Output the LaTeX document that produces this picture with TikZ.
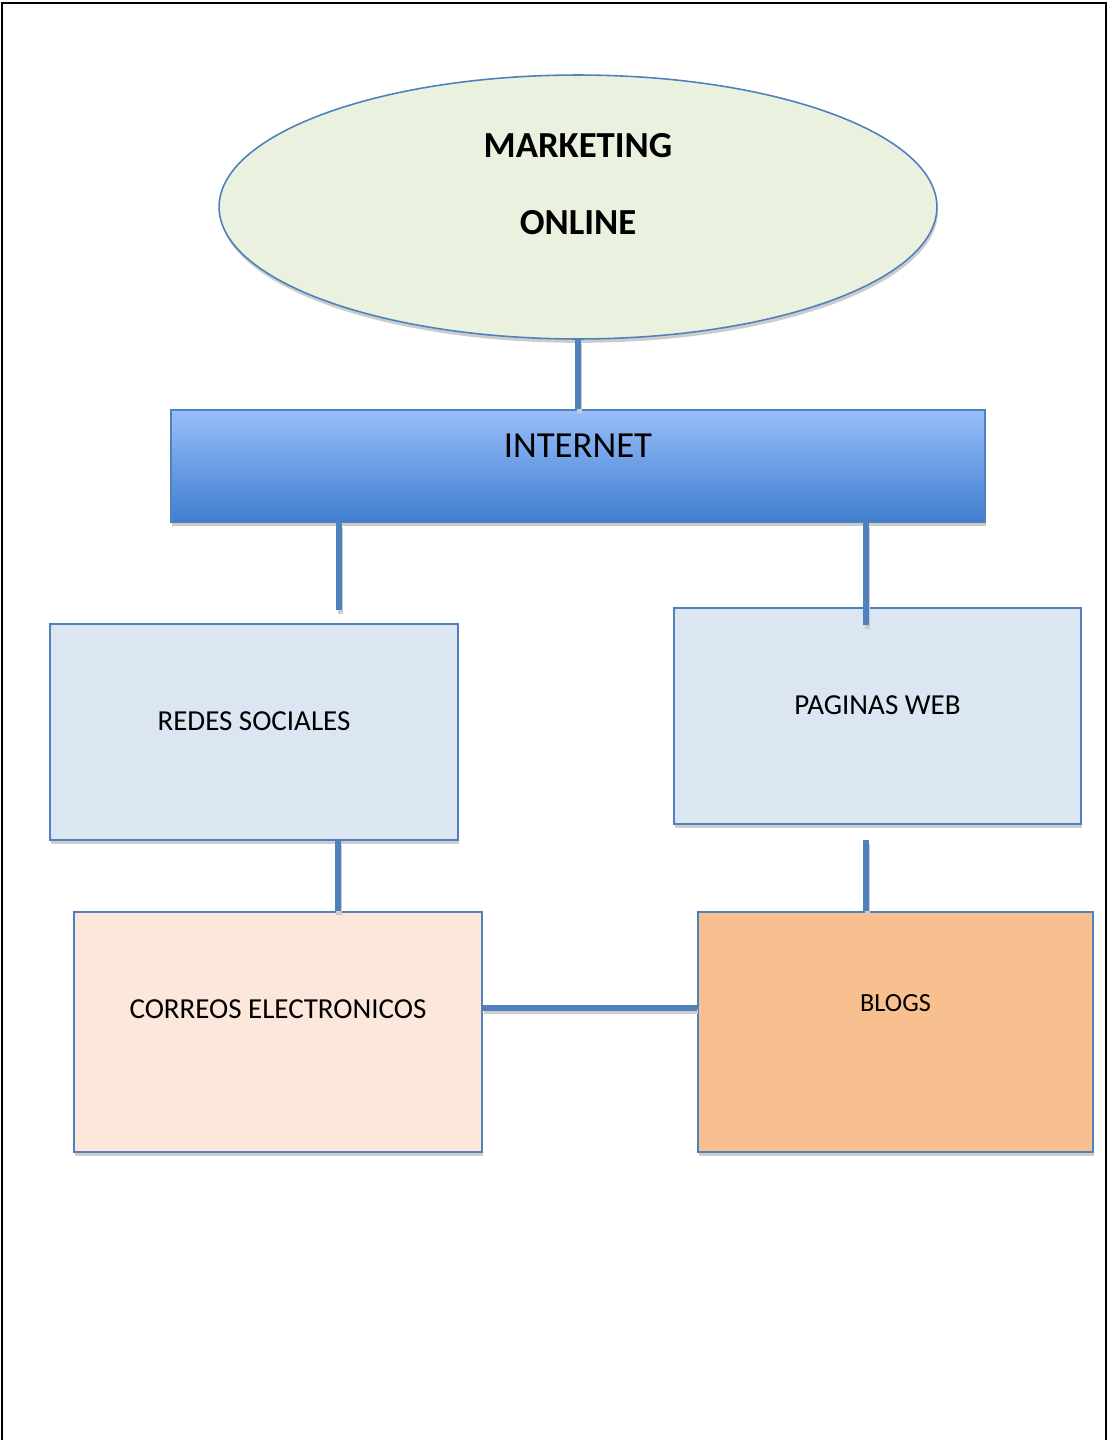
\documentclass[tikz,border=0pt]{standalone}
\usepackage{fontspec}
\setmainfont{Carlito}
\usetikzlibrary{shapes.geometric,shadows}

\definecolor{lineblue}{HTML}{4F81BD}
\definecolor{goalgreen}{HTML}{EAF1DE}
\definecolor{barlight}{HTML}{98BEFB}
\definecolor{barmid}{HTML}{80AAEE}
\definecolor{bardark}{HTML}{3F7ECE}
\definecolor{paleblue}{HTML}{DCE6F2}
\definecolor{palepeach}{HTML}{FBE8DA}
\definecolor{peach}{HTML}{F8BF8F}

\tikzset{
  link/.style={draw=lineblue, line width=2.9pt,
    preaction={draw=black!20, line width=2.9pt, transform canvas={xshift=0.6pt, yshift=-2.2pt}}},
  shade/.style={drop shadow={shadow xshift=0.6pt, shadow yshift=-2.2pt, fill=black!20, opacity=1}},
  goal/.style={ellipse, draw=lineblue, line width=0.9pt, fill=goalgreen, shade},
  bar/.style={rectangle, draw=lineblue, line width=1pt, top color=barlight, middle color=barmid, bottom color=bardark, shade},
  box/.style={rectangle, draw=lineblue, line width=1.1pt, shade},
  bigtext/.style={font=\fontsize{20.9}{44}\selectfont},
  smalltext/.style={font=\fontsize{16.5}{20}\selectfont},
}

\begin{document}
\begin{tikzpicture}[x=0.02cm, y=-0.02cm]

  \useasboundingbox (0,0) rectangle (1108,1440);
  \draw[line width=1.2pt] (2,1440) -- (2,3) -- (1106,3) -- (1106,1440);

  \node (mkt) [goal, minimum width=14.36cm, minimum height=5.28cm,
    label={[name=mkt-t, yshift=0.46cm, align=center, font=\bfseries\fontsize{20.9}{44}\selectfont]center:MARKETING\\ONLINE}] at (578,207) {};
  \node (internet) [bar, minimum width=16.28cm, minimum height=2.24cm,
    label={[name=internet-t, yshift=0.40cm, bigtext]center:INTERNET}] at (578,466) {};
  \node (redes) [box, fill=paleblue, minimum width=8.16cm, minimum height=4.32cm,
    label={[name=redes-t, yshift=0.22cm, smalltext]center:REDES SOCIALES}] at (254,732) {};
  \node (paginas) [box, fill=paleblue, minimum width=8.14cm, minimum height=4.32cm,
    label={[name=paginas-t, yshift=0.22cm, smalltext]center:PAGINAS WEB}] at (877.5,716) {};
  \node (correos) [box, fill=palepeach, minimum width=8.16cm, minimum height=4.8cm,
    label={[name=correos-t, yshift=0.46cm, smalltext]center:CORREOS ELECTRONICOS}] at (278,1032) {};
  \node (blogs) [box, fill=peach, minimum width=7.9cm, minimum height=4.8cm,
    label={[name=blogs-t, yshift=0.57cm, font=\fontsize{14.9}{18}\selectfont]center:BLOGS}] at (895.5,1032) {};

  % free ends of the short connectors
  \coordinate (rs-in) at (339,610);
  \coordinate (pw-in) at (866,625);
  \coordinate (pw-out) at (866,840);

  \draw[link] (mkt.south) -- (internet.north);
  \draw[link] (internet.south -| rs-in) -- (rs-in);
  \draw[link] (internet.south -| pw-in) -- (pw-in);
  \draw[link] ([xshift=1.68cm]redes.south) -- ([xshift=1.68cm]redes.south |- correos.north);
  \draw[link] (pw-out) -- (pw-out |- blogs.north);
  \draw[link] ([yshift=0.48cm]correos.east) -- ([yshift=0.48cm]correos.east -| blogs.west);

\end{tikzpicture}
\end{document}
